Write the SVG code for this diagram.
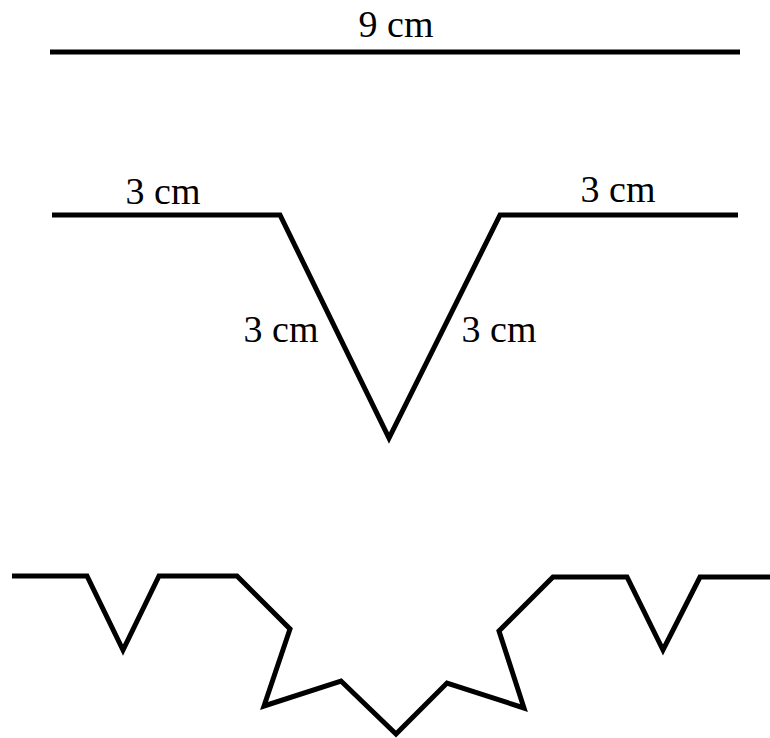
<svg xmlns="http://www.w3.org/2000/svg" width="770" height="738" viewBox="0 0 770 738">
<style>
.ln{fill:none;stroke:#000;stroke-width:5;stroke-linejoin:miter;stroke-miterlimit:10}
.lb{font-family:"Liberation Serif","Times New Roman",serif;font-size:38px;fill:#000}
</style>
<rect width="770" height="738" fill="#fff"/>
<g id="top">
<line class="ln" x1="50" y1="52" x2="740" y2="52"/>
<text class="lb" x="396" y="37" text-anchor="middle">9 cm</text>
</g>
<g id="middle">
<polyline class="ln" points="52,215 280,215 389,438 500,215 738,215"/>
<text class="lb" x="163" y="204" text-anchor="middle">3 cm</text>
<text class="lb" x="618" y="202" text-anchor="middle">3 cm</text>
<text class="lb" x="281" y="342" text-anchor="middle">3 cm</text>
<text class="lb" x="499" y="342" text-anchor="middle">3 cm</text>
</g>
<g id="bottom">
<polyline class="ln" points="12,576 87,576 123,650 159,576 237,576 290,629 264,706 341,681 396,734 447,683 524,708 499,631 553,577 627,577 663,650 700,577 770,577"/>
</g>
</svg>
